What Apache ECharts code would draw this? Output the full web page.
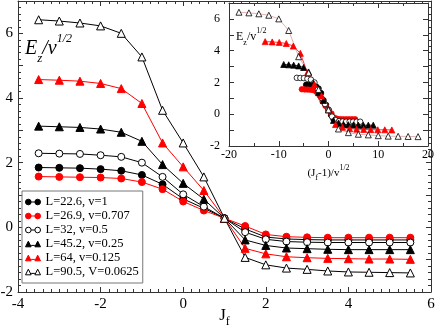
<!DOCTYPE html>
<html>
<head>
<meta charset="utf-8">
<script src="https://cdn.jsdelivr.net/npm/echarts@6/dist/echarts.min.js"></script>
<style>
  html, body { margin: 0; padding: 0; background: #fff; }
  #chart { width: 436px; height: 328px; }
</style>
</head>
<body>
<div id="chart"></div>
<script>
var FONT = 'Liberation Serif';

// J_f values (x of the main plot)
var jf = [-3.5, -3, -2.5, -2, -1.5, -1, -0.5, 0, 0.5, 1, 1.5, 2, 2.5, 3, 3.5, 4, 4.5, 5, 5.5];

// E_z / v^(1/2)
var ezL226 = [1.85, 1.84, 1.83, 1.80, 1.75, 1.62, 1.33, 0.88, 0.59, 0.28, -0.05, -0.30, -0.36, -0.38, -0.39, -0.39, -0.39, -0.39, -0.39];
var ezL269 = [1.57, 1.56, 1.55, 1.54, 1.51, 1.40, 1.18, 0.80, 0.52, 0.28, 0.04, -0.22, -0.29, -0.31, -0.32, -0.32, -0.32, -0.32, -0.32];
var ezL32 = [2.29, 2.28, 2.27, 2.23, 2.18, 2.00, 1.56, 1.02, 0.64, 0.28, -0.15, -0.37, -0.44, -0.46, -0.47, -0.47, -0.47, -0.47, -0.47];
var ezL452 = [3.13, 3.11, 3.09, 3.04, 2.94, 2.66, 1.94, 1.36, 0.87, 0.28, -0.39, -0.56, -0.64, -0.66, -0.68, -0.69, -0.69, -0.69, -0.69];
var ezL64 = [4.57, 4.55, 4.52, 4.45, 4.29, 3.83, 2.61, 1.87, 1.14, 0.28, -0.65, -0.82, -0.91, -0.94, -0.96, -0.97, -0.98, -0.98, -0.99];
var ezL905 = [6.42, 6.38, 6.32, 6.23, 6.00, 5.27, 3.62, 2.61, 1.56, 0.28, -0.93, -1.16, -1.26, -1.30, -1.35, -1.38, -1.39, -1.40, -1.41];

var names = ['L=22.6, v=1', 'L=26.9, v=0.707', 'L=32, v=0.5', 'L=45.2, v=0.25', 'L=64, v=0.125', 'L=90.5, V=0.0625'];
var vel = [1, 0.707, 0.5, 0.25, 0.125, 0.0625];
var values = [ezL226, ezL269, ezL32, ezL452, ezL64, ezL905];

// styling per series
var symbols = ['circle', 'circle', 'circle', 'triangle', 'triangle', 'triangle'];
var fills = ['#000', '#f00', '#fff', '#000', '#f00', '#fff'];
var edges = ['#000', '#f00', '#000', '#000', '#f00', '#000'];
var insetLines = ['#000', '#f00', '#000', '#000', '#f00', '#dc9c9c'];

var circleIcon = 'path://M0,3A3,3,0,1,1,6,3A3,3,0,1,1,0,3Z M10,3A3,3,0,1,1,16,3A3,3,0,1,1,10,3Z M6,3L10,3';
var triIcon = 'path://M0,6L3,0L6,6Z M10,6L13,0L16,6Z M6,4.5L10,4.5';

function pairs(xs, ys) {
  return xs.map(function (x, i) { return [x, ys[i]]; });
}

var series = [];
var legendData = [];
for (var i = 0; i < names.length; i++) {
  var big = symbols[i] === 'triangle';
  series.push({
    name: names[i],
    type: 'line',
    xAxisIndex: 0, yAxisIndex: 0,
    data: pairs(jf, values[i]),
    symbol: symbols[i],
    symbolSize: big ? 8 : 7,
    z: 2,
    lineStyle: { color: edges[i], width: 1 },
    itemStyle: { color: fills[i], borderColor: edges[i], borderWidth: 1, opacity: 1 },
    animation: false
  });
  // inset: same points against (J_f - 1)/v^(1/2)
  var sq = Math.sqrt(vel[i]);
  series.push({
    name: names[i],
    type: 'line',
    xAxisIndex: 2, yAxisIndex: 2,
    data: pairs(jf.map(function (x) { return (x - 1) / sq; }), values[i]),
    symbol: symbols[i],
    symbolSize: big ? 6 : 5.5,
    z: 4,
    lineStyle: { color: insetLines[i], width: 0.8 },
    itemStyle: { color: fills[i], borderColor: edges[i], borderWidth: 0.8, opacity: 1 },
    animation: false
  });
  legendData.push({
    name: names[i],
    icon: big ? triIcon : circleIcon,
    itemStyle: { color: fills[i], borderColor: edges[i], borderWidth: 1 }
  });
}

function frameAxis(grid, pos, min, max, interval, minorSplit, labelOpt, z, extra) {
  var ax = {
    type: 'value',
    gridIndex: grid,
    position: pos,
    min: min, max: max, interval: interval,
    z: z,
    axisLine: { show: true, onZero: false, lineStyle: { color: '#333', width: 1 } },
    axisTick: { show: true, inside: true, length: 5, lineStyle: { color: '#333' } },
    minorTick: { show: minorSplit > 1, splitNumber: minorSplit, length: 3, lineStyle: { color: '#333' } },
    splitLine: { show: false },
    minorSplitLine: { show: false },
    axisLabel: labelOpt
  };
  if (extra) for (var k in extra) ax[k] = extra[k];
  return ax;
}

// label-only y axis (one unit below the frame so -2 is not the end label)
function labelAxis(grid, fontSize, margin, z) {
  return {
    type: 'value', gridIndex: grid, position: 'left',
    min: -3, max: 7, interval: 1, z: z,
    axisLine: { show: false }, axisTick: { show: false },
    splitLine: { show: false },
    axisLabel: {
      show: true, fontFamily: FONT, fontSize: fontSize, color: '#000', margin: margin,
      showMinLabel: false, showMaxLabel: false, formatter: evenOnly
    }
  };
}

function hiddenX(grid) {
  return { type: 'value', gridIndex: grid, min: 0, max: 1, show: false };
}

function evenOnly(v) { return (Math.round(v) % 2 === 0) ? String(v) : ''; }

var mainX = { show: true, fontFamily: FONT, fontSize: 15, color: '#000', margin: 5, showMinLabel: true, showMaxLabel: true };
var insX = { show: true, fontFamily: FONT, fontSize: 12, color: '#000', margin: 3, showMinLabel: true, showMaxLabel: true };

var option = {
  backgroundColor: '#fff',
  animation: false,
  grid: [
    { left: 18, right: 5, top: 1, bottom: 36, outerBoundsMode: 'none', containLabel: false },
    { left: 229, width: 199, top: 3, height: 143, z: 3, show: true, backgroundColor: '#fff', borderWidth: 0, outerBoundsMode: 'none', containLabel: false },
    { left: 18, right: 5, top: 1, height: 291 * 10 / 9, outerBoundsMode: 'none', containLabel: false },
    { left: 229, width: 199, top: 3, height: 143 * 10 / 9, z: 3, outerBoundsMode: 'none', containLabel: false }
  ],
  legend: {
    data: legendData,
    orient: 'vertical',
    left: 22, top: 191,
    padding: [4, 4, 4, 3],
    itemGap: 0,
    itemWidth: 15, itemHeight: 6,
    backgroundColor: '#fff',
    borderColor: '#777', borderWidth: 1,
    z: 6,
    selectedMode: false,
    textStyle: { fontFamily: FONT, fontSize: 12.5, color: '#000', lineHeight: 14 }
  },
  xAxis: [
    frameAxis(0, 'bottom', -4, 6, 2, 10, mainX, 1, {
      name: '{a|J}{s|f}',
      nameLocation: 'middle',
      nameGap: 12,
      nameMoveOverlap: false,
      nameTextStyle: {
        rich: {
          a: { fontFamily: FONT, fontSize: 17, color: '#000', lineHeight: 24, verticalAlign: 'middle' },
          s: { fontFamily: FONT, fontSize: 12, color: '#000', lineHeight: 14, verticalAlign: 'bottom' }
        }
      }
    }),
    frameAxis(0, 'top', -4, 6, 2, 10, { show: false }, 1),
    frameAxis(1, 'bottom', -20, 20, 10, 2, insX, 5, {
      name: '{a|(J}{s|f}{a|-1)/v}{p|1/2}',
      nameLocation: 'middle',
      nameGap: 18,
      nameMoveOverlap: false,
      nameTextStyle: {
        rich: {
          a: { fontFamily: FONT, fontSize: 11, color: '#000', lineHeight: 18, verticalAlign: 'middle' },
          s: { fontFamily: FONT, fontSize: 8, color: '#000', lineHeight: 10, verticalAlign: 'bottom' },
          p: { fontFamily: FONT, fontSize: 8, color: '#000', lineHeight: 10, verticalAlign: 'top' }
        }
      }
    }),
    frameAxis(1, 'top', -20, 20, 10, 2, { show: false }, 5),
    hiddenX(2),
    hiddenX(3)
  ],
  yAxis: [
    frameAxis(0, 'left', -2, 7, 1, 5, { show: false }, 1),
    frameAxis(0, 'right', -2, 7, 1, 5, { show: false }, 1),
    frameAxis(1, 'left', -2, 7, 1, 0, { show: false }, 5),
    frameAxis(1, 'right', -2, 7, 1, 0, { show: false }, 5),
    labelAxis(2, 15, 5, 1),
    labelAxis(3, 12, 9, 5)
  ],
  graphic: [
    {
      type: 'text', x: 25, y: 49, z: 7,
      style: {
        text: '{e|E}{s|z}{e|/v}{p|1/2}',
        align: 'left', verticalAlign: 'middle',
        rich: {
          e: { fontFamily: FONT, fontStyle: 'italic', fontSize: 20, fill: '#000', lineHeight: 32, verticalAlign: 'middle' },
          s: { fontFamily: FONT, fontStyle: 'italic', fontSize: 13, fill: '#000', lineHeight: 20, verticalAlign: 'bottom' },
          p: { fontFamily: FONT, fontStyle: 'italic', fontSize: 12, fill: '#000', lineHeight: 12, verticalAlign: 'top' }
        }
      }
    },
    {
      type: 'text', x: 236, y: 37, z: 7,
      style: {
        text: '{e|E}{s|z}{e|/v}{p|1/2}',
        align: 'left', verticalAlign: 'middle',
        rich: {
          e: { fontFamily: FONT, fontSize: 12, fill: '#000', lineHeight: 20, verticalAlign: 'middle' },
          s: { fontFamily: FONT, fontSize: 8, fill: '#000', lineHeight: 12, verticalAlign: 'bottom' },
          p: { fontFamily: FONT, fontSize: 8, fill: '#000', lineHeight: 9, verticalAlign: 'top' }
        }
      }
    }
  ],
  series: series
};

var myChart = echarts.init(document.getElementById('chart'), null, { renderer: 'canvas' });
myChart.setOption(option);
</script>
</body>
</html>
